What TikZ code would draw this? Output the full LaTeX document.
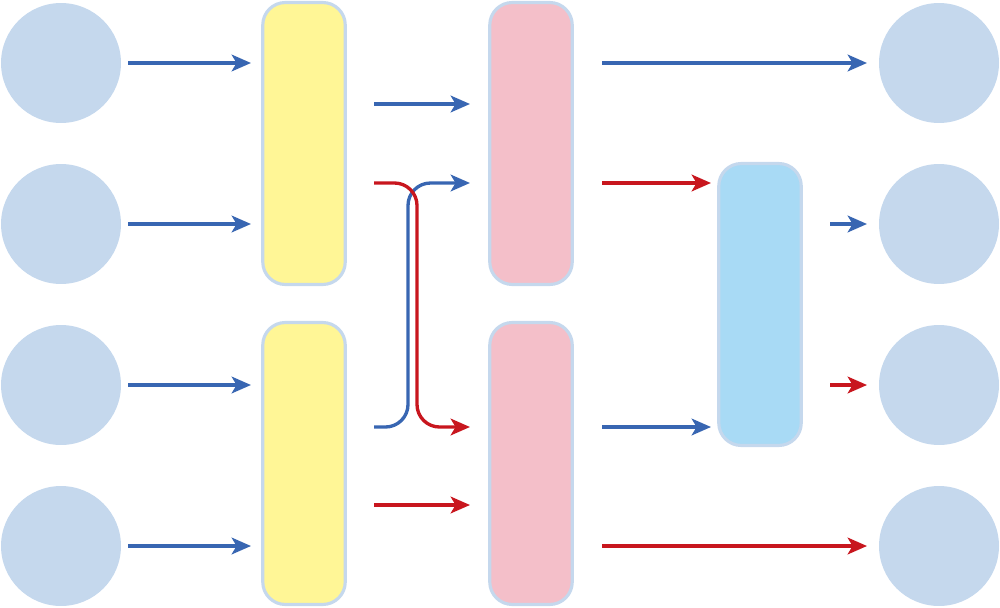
\documentclass[tikz,border=0pt]{standalone}
\usetikzlibrary{arrows.meta}
\definecolor{circ}{RGB}{197,216,237}
\definecolor{bord}{RGB}{197,216,237}
\definecolor{yel}{RGB}{255,246,150}
\definecolor{pnk}{RGB}{244,191,201}
\definecolor{lblu}{RGB}{168,218,245}
\definecolor{ablue}{RGB}{56,102,178}
\definecolor{ared}{RGB}{200,22,30}
\tikzset{
  ball/.style={circle,fill=circ,minimum size=2.4cm,inner sep=0pt},
  bar/.style={draw=bord,line width=1.8pt,rounded corners=0.45cm,minimum width=1.65cm,minimum height=5.64cm,inner sep=0pt},
  ybar/.style={bar,fill=yel},
  pbar/.style={bar,fill=pnk},
  bbar/.style={bar,fill=lblu},
  arr/.style={line width=1.9pt,-{Stealth[length=11pt,width=9.5pt,inset=2.8pt]}},
  barr/.style={arr,draw=ablue},
  rarr/.style={arr,draw=ared},
}
\begin{document}
\begin{tikzpicture}[x=0.02cm,y=-0.02cm]
\useasboundingbox (0,0) rectangle (1000,608);
% circles
\node[ball] (l1) at (61,63) {};
\node[ball] (l2) at (61,224) {};
\node[ball] (l3) at (61,385) {};
\node[ball] (l4) at (61,546) {};
\node[ball] (r1) at (939,63) {};
\node[ball] (r2) at (939,224) {};
\node[ball] (r3) at (939,385) {};
\node[ball] (r4) at (939,546) {};
% bars
\node[ybar] (y1) at (304,143.5) {};
\node[ybar] (y2) at (304,463.5) {};
\node[pbar] (p1) at (531,143.5) {};
\node[pbar] (p2) at (531,463.5) {};
\node[bbar] (b1) at (760,304.5) {};
% coordinates
\coordinate (a1s) at (128,63);  \coordinate (a1e) at (251,63);
\coordinate (a2s) at (128,224); \coordinate (a2e) at (251,224);
\coordinate (a3s) at (128,385); \coordinate (a3e) at (251,385);
\coordinate (a4s) at (128,546); \coordinate (a4e) at (251,546);
\coordinate (m1s) at (374,104); \coordinate (m1e) at (470,104);
\coordinate (m2s) at (374,183); \coordinate (m2e) at (470,427);
\coordinate (m3s) at (374,427); \coordinate (m3e) at (470,183);
\coordinate (m4s) at (374,505); \coordinate (m4e) at (470,505);
\coordinate (m2v) at (417,427);
\coordinate (m3v) at (408,183);
\coordinate (o1s) at (602,63);  \coordinate (o1e) at (867,63);
\coordinate (o2s) at (602,183); \coordinate (o2e) at (711,183);
\coordinate (o3s) at (602,427); \coordinate (o3e) at (711,427);
\coordinate (o4s) at (602,546); \coordinate (o4e) at (867,546);
\coordinate (q1s) at (830,224); \coordinate (q1e) at (867,224);
\coordinate (q2s) at (830,385); \coordinate (q2e) at (867,385);
% arrows
\draw[barr] (a1s) -- (a1e);
\draw[barr] (a2s) -- (a2e);
\draw[barr] (a3s) -- (a3e);
\draw[barr] (a4s) -- (a4e);
\draw[barr] (m1s) -- (m1e);
\draw[barr,rounded corners=0.45cm] (m3s) -| (m3v) -- (m3e);
\draw[rarr,rounded corners=0.45cm] (m2s) -| (m2v) -- (m2e);
\draw[rarr] (m4s) -- (m4e);
\draw[barr] (o1s) -- (o1e);
\draw[rarr] (o2s) -- (o2e);
\draw[barr] (o3s) -- (o3e);
\draw[rarr] (o4s) -- (o4e);
\draw[barr] (q1s) -- (q1e);
\draw[rarr] (q2s) -- (q2e);
\end{tikzpicture}
\end{document}
